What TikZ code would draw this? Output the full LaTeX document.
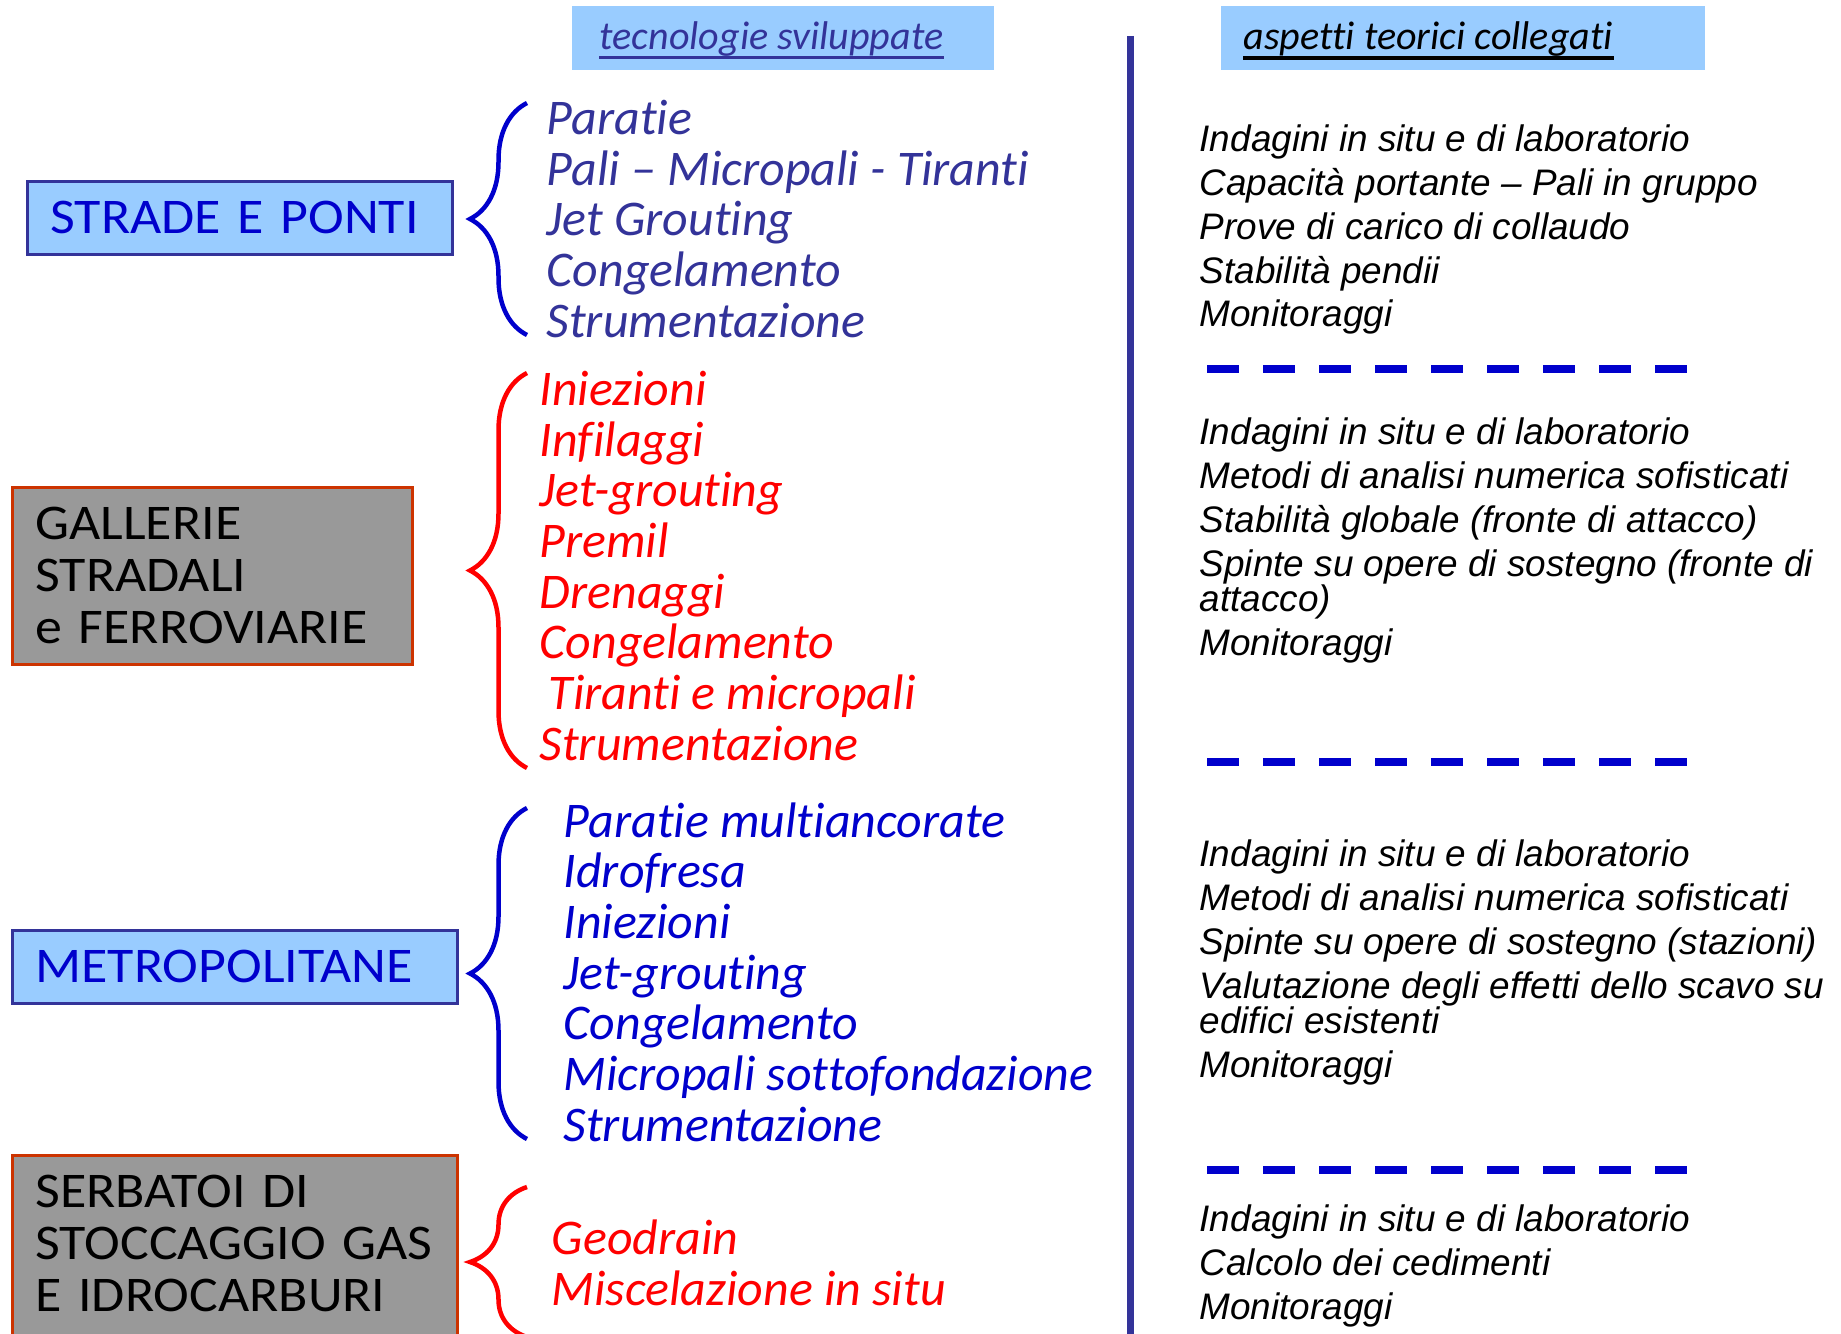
\documentclass[tikz,border=0pt]{standalone}
\usepackage{fontspec}
\setmainfont{Liberation Sans}
\newfontfamily\handfont[Ligatures=NoCommon]{Carlito}
\newfontfamily\handwide[FakeStretch=1.08, Ligatures=NoCommon]{Carlito}
\usetikzlibrary{decorations.pathreplacing}

\definecolor{skyfill}{HTML}{99CCFF}
\definecolor{navy}{HTML}{333399}
\definecolor{royal}{HTML}{0000CC}
\definecolor{rust}{HTML}{CC3300}
\definecolor{slate}{HTML}{999999}

\newcommand\theofont{\itshape\fontsize{10.5}{9.96}\selectfont\setlength{\lineskiplimit}{-5pt}}

\tikzset{
headbar/.style={fill=skyfill, inner sep=0pt, minimum height=6.4mm}, % light blue strip behind a column title
headtext/.style={anchor=base west, inner sep=0pt, font=\handfont\itshape\fontsize{11.4}{13}\selectfont},
worksbox/.style={anchor=north west, line width=0.3mm, align=left, inner xsep=2.3mm, inner ysep=2mm,
  font=\handwide\fontsize{14.2}{14.8}\selectfont}, % the boxes on the left
bluebox/.style={worksbox, draw=navy, fill=skyfill, text=royal},
graybox/.style={worksbox, draw=rust, fill=slate, text=black},
techlist/.style={anchor=base west, inner sep=0pt, align=left, font=\handfont\itshape\fontsize{14.2}{14.4}\selectfont}, % placed by its last line
theolist/.style={anchor=base west, inner sep=0pt, align=left, font=\theofont}, % placed by its last line
curly/.style={decorate, decoration={brace, amplitude=5.7mm}, line width=0.45mm}, % brace opening towards a list
sepdash/.style={draw=royal, line width=0.8mm, dash pattern=on 3.2mm off 2.4mm},
}

\begin{document}
\begin{tikzpicture}[x=0.1mm, y=-0.1mm]
\useasboundingbox (0,0) rectangle (1841,1333);

% column titles
\node[headbar, minimum width=42.2mm] (techbar) at (783,38) {};
\node[headtext, text=navy] (techtitle) at (599,50) {tecnologie sviluppate};
\draw[navy, line width=0.35mm] ([yshift=-0.75mm]techtitle.base west) -- ([yshift=-0.75mm]techtitle.base east);
\node[headbar, minimum width=48.4mm] (theobar) at (1463,38) {};
\node[headtext] (theotitle) at (1243,50) {aspetti teorici collegati};
\draw[black, line width=0.35mm] ([yshift=-0.8mm]theotitle.base west) -- ([yshift=-0.8mm]theotitle.base east);

% divider between the columns
\coordinate (divtop) at (1130,36);
\coordinate (divbot) at (1130,1340);
\draw[navy, line width=0.7mm] (divtop) -- (divbot);

% works
\node[bluebox, text width=37.9mm] (strade) at (26,180) {STRADE E PONTI};
\node[graybox, text width=35.4mm] (gallerie) at (11,486) {GALLERIE\\STRADALI\\e FERROVIARIE};
\node[bluebox, text width=39.9mm] (metro) at (11,929) {METROPOLITANE};
\node[graybox, text width=39.9mm, text depth=15mm] (serbatoi) at (11,1154) {SERBATOI DI\\STOCCAGGIO GAS\\E IDROCARBURI};

% braces
\coordinate (c1s) at (527,335);  \coordinate (c1e) at (527,103);
\coordinate (c2s) at (527,768);  \coordinate (c2e) at (527,373);
\coordinate (c3s) at (527,1139); \coordinate (c3e) at (527,808);
\coordinate (c4s) at (527,1337); \coordinate (c4e) at (527,1187);
\draw[curly, royal] (c1s) -- (c1e);
\draw[curly, red] (c2s) -- (c2e);
\draw[curly, royal] (c3s) -- (c3e);
\draw[curly, red] (c4s) -- (c4e);

% technologies
\node[techlist, text=navy] (tech1) at (546,337) {Paratie\\Pali – Micropali - Tiranti\\Jet Grouting\\Congelamento\\Strumentazione};
\node[techlist, text=red] (tech2) at (539,760) {Iniezioni\\Infilaggi\\Jet-grouting\\Premil\\Drenaggi\\Congelamento\\\hspace*{0.9mm}Tiranti e micropali\\Strumentazione};
\node[techlist, text=royal] (tech3) at (563,1141) {Paratie multiancorate\\Idrofresa\\Iniezioni\\Jet-grouting\\Congelamento\\Micropali sottofondazione\\Strumentazione};
\node[techlist, text=red] (tech4) at (551,1305) {Geodrain\\Miscelazione in situ};

% theory
\node[theolist] (theo1) at (1199,327) {Indagini in situ e di laboratorio\\[2.5pt]Capacità portante – Pali in gruppo\\[2.5pt]Prove di carico di collaudo\\[2.5pt]Stabilità pendii\\[2.5pt]Monitoraggi};
\node[theolist] (theo2) at (1199,655) {Indagini in situ e di laboratorio\\[2.5pt]Metodi di analisi numerica sofisticati\\[2.5pt]Stabilità globale (fronte di attacco)\\[2.5pt]Spinte su opere di sostegno (fronte di\\attacco)\\[2.5pt]Monitoraggi};
\node[theolist] (theo3) at (1199,1077) {Indagini in situ e di laboratorio\\[2.5pt]Metodi di analisi numerica sofisticati\\[2.5pt]Spinte su opere di sostegno (stazioni)\\[2.5pt]Valutazione degli effetti dello scavo su\\edifici esistenti\\[2.5pt]Monitoraggi};
\node[theolist] (theo4) at (1199,1319) {Indagini in situ e di laboratorio\\[2.5pt]Calcolo dei cedimenti\\[2.5pt]Monitoraggi};

% separators between the theory groups
\foreach \y [count=\k] in {369,762,1170} {
  \coordinate (dl\k) at (1207,\y);
  \coordinate (dr\k) at (1687,\y);
  \draw[sepdash] (dl\k) -- (dr\k);
}
\end{tikzpicture}
\end{document}
